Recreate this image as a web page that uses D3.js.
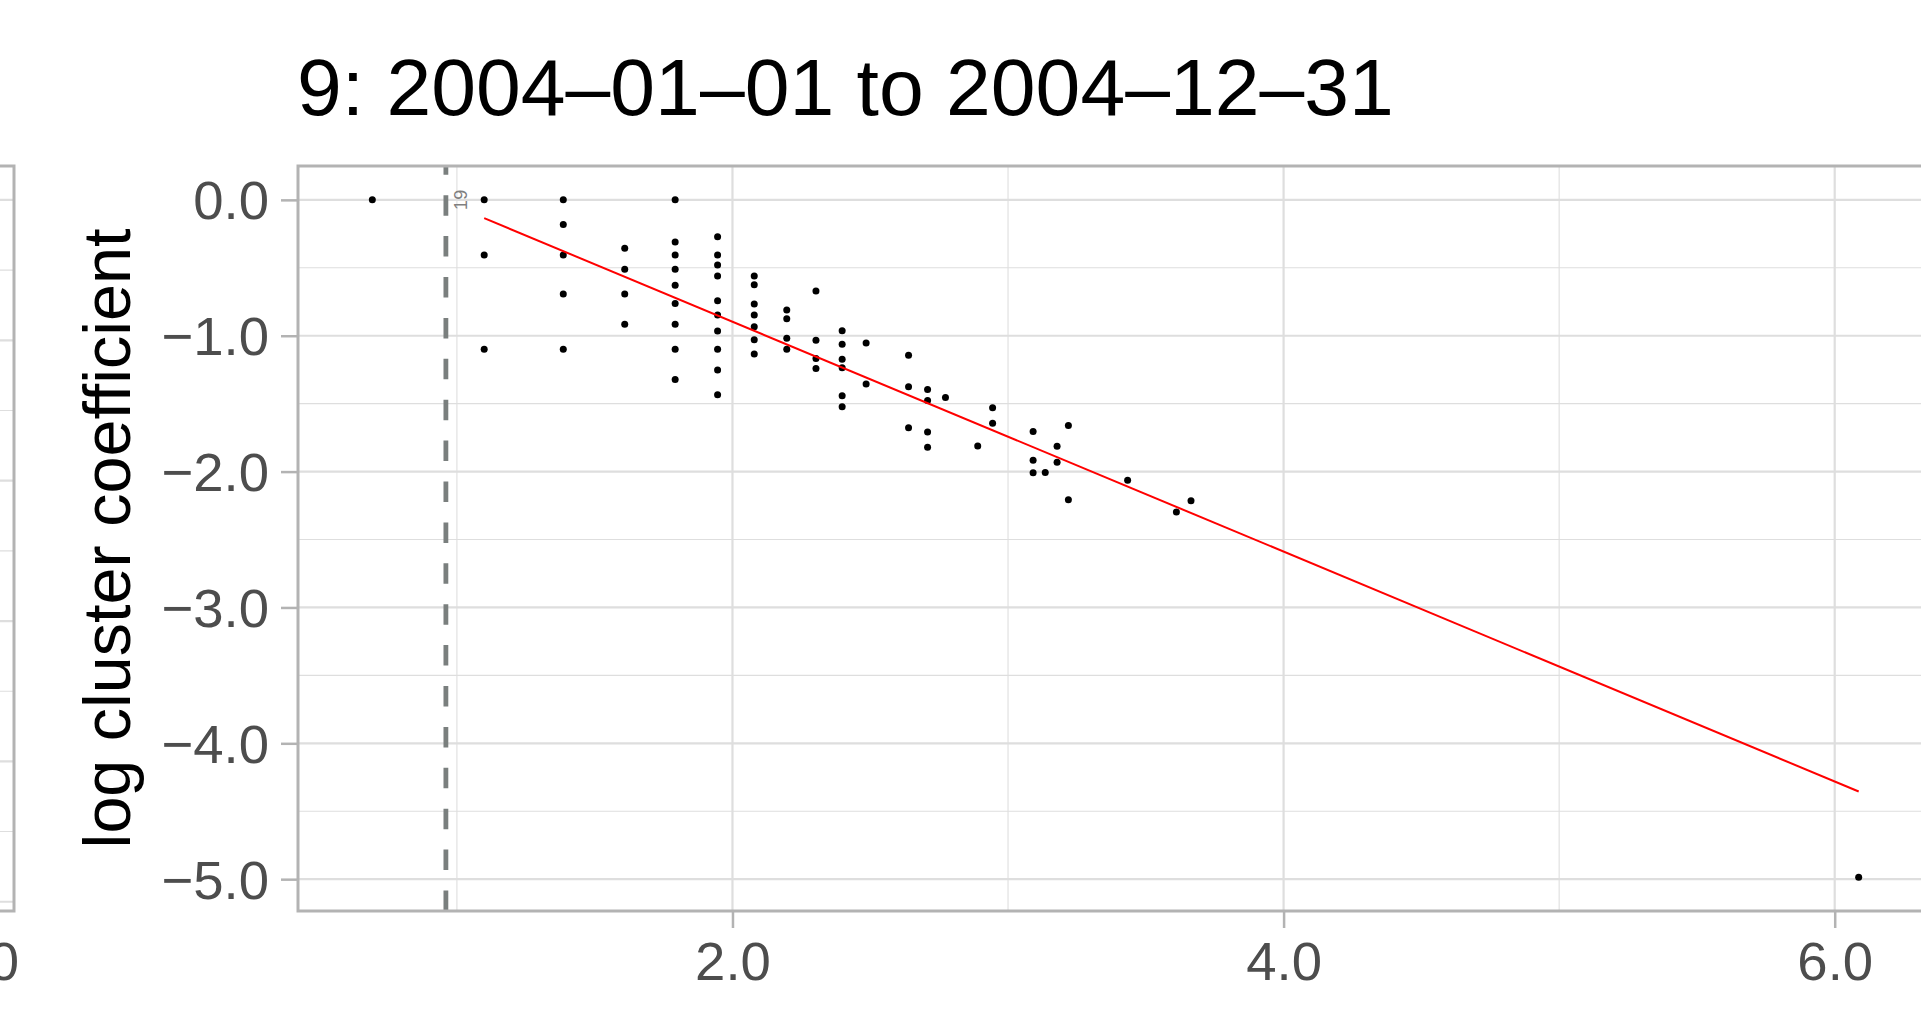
<!DOCTYPE html>
<html>
<head>
<meta charset="utf-8">
<script src="https://cdn.jsdelivr.net/npm/d3@7"></script>
<style>
  body { margin: 0; background: #fff; }
  svg { display: block; font-family: "Liberation Sans", Arial, sans-serif; }
</style>
</head>
<body>
<div id="graph"></div>
<script>
// 图表数据 (log degree -> log cluster coefficient)
const title = "9: 2004\u201301\u201301 to 2004\u201312\u201331";
const yLabel = "log cluster coefficient";

const logDegree = [0.693, 1.099, 1.386, 1.609, 1.792, 1.946, 2.079, 2.197, 2.303, 2.398,
    2.485, 2.639, 2.708, 2.773, 2.890, 2.944, 3.091, 3.135, 3.178, 3.219, 3.434, 3.611, 3.664, 6.087];
const logCluster = [
    [0],
    [0, -0.405, -1.099],
    [0, -0.182, -0.405, -0.693, -1.099],
    [-0.357, -0.511, -0.693, -0.916],
    [0, -0.310, -0.405, -0.511, -0.629, -0.762, -0.916, -1.099, -1.322],
    [-0.272, -0.405, -0.480, -0.560, -0.742, -0.847, -0.965, -1.099, -1.253, -1.435],
    [-0.560, -0.624, -0.767, -0.847, -0.934, -1.030, -1.135],
    [-0.811, -0.875, -1.019, -1.099],
    [-0.671, -1.034, -1.168, -1.242],
    [-0.963, -1.063, -1.174, -1.235, -1.442, -1.522],
    [-1.054, -1.356],
    [-1.143, -1.375, -1.678],
    [-1.396, -1.476, -1.709, -1.821],
    [-1.455],
    [-1.811],
    [-1.531, -1.645],
    [-1.705, -1.916, -2.008],
    [-2.007],
    [-1.814, -1.932],
    [-1.661, -2.207],
    [-2.064],
    [-2.297],
    [-2.214],
    [-4.985]
];

// 拟合线 & 截断线
const fitFrom = 1.099, fitTo = 6.087;
const fitIntercept = 0.795, fitSlope = -0.846;
const cutX = 0.96, cutLabel = "19";

const xMajor = [2, 4, 6], xMinor = [1, 3, 5];
const yMajor = [0, -1, -2, -3, -4, -5], yMinor = [-0.5, -1.5, -2.5, -3.5, -4.5];

// 左侧相邻面板 (只露出一小条)
const leftDomain = [0.242, -5.066];
const leftMajor = [0, -1, -2, -3, -4, -5], leftMinor = [-0.5, -1.5, -2.5, -3.5, -4.5];
const leftXLabel = "6.0";

//绘图及显示属性
const width = 1921, height = 1009;
const panel = {left: 298, right: 1933, top: 166, bottom: 911};
const grid = "#DEDEDE", border = "#B3B3B3", axisText = "#4D4D4D";
const tickFont = 54.5;

var points = [];
logDegree.forEach(function (x, i) {
    logCluster[i].forEach(function (y) { points.push({x: x, y: y}); });
});

var xExt = d3.extent(points, d => d.x);
var yExt = d3.extent(points.map(d => d.y).concat([fitIntercept + fitSlope * fitFrom, fitIntercept + fitSlope * fitTo]));
var xPad = (xExt[1] - xExt[0]) * 0.05, yPad = (yExt[1] - yExt[0]) * 0.05;

var x = d3.scaleLinear().domain([xExt[0] - xPad, xExt[1] + xPad]).range([panel.left, panel.right]);
var y = d3.scaleLinear().domain([yExt[0] - yPad, yExt[1] + yPad]).range([panel.bottom, panel.top]);
var fmt = d3.format(".1f");

var svg = d3.select("#graph").append("svg")
    .attr("width", width).attr("height", height);

// ---- left neighbour panel ----
var yl = d3.scaleLinear().domain(leftDomain).range([panel.top, panel.bottom]);
var lp = svg.append("g");
lp.append("rect").attr("x", -20).attr("y", panel.top).attr("width", 34).attr("height", panel.bottom - panel.top)
    .attr("fill", "#fff");
lp.selectAll(".lminor").data(leftMinor).enter().append("line")
    .attr("x1", -20).attr("x2", 14).attr("y1", d => yl(d)).attr("y2", d => yl(d))
    .attr("stroke", grid).attr("stroke-width", 1.1);
lp.selectAll(".lmajor").data(leftMajor).enter().append("line")
    .attr("x1", -20).attr("x2", 14).attr("y1", d => yl(d)).attr("y2", d => yl(d))
    .attr("stroke", grid).attr("stroke-width", 2.2);
lp.append("rect").attr("x", -20).attr("y", panel.top).attr("width", 34).attr("height", panel.bottom - panel.top)
    .attr("fill", "none").attr("stroke", border).attr("stroke-width", 3);
lp.append("text").attr("x", 19).attr("y", 980).attr("text-anchor", "end")
    .attr("font-size", tickFont).attr("fill", axisText).text(leftXLabel);

// ---- main panel ----
var g = svg.append("g");
g.append("rect").attr("x", panel.left).attr("y", panel.top)
    .attr("width", panel.right - panel.left).attr("height", panel.bottom - panel.top).attr("fill", "#fff");

g.selectAll(".yminor").data(yMinor).enter().append("line")
    .attr("x1", panel.left).attr("x2", panel.right).attr("y1", d => y(d)).attr("y2", d => y(d))
    .attr("stroke", grid).attr("stroke-width", 1.1);
g.selectAll(".xminor").data(xMinor).enter().append("line")
    .attr("y1", panel.top).attr("y2", panel.bottom).attr("x1", d => x(d)).attr("x2", d => x(d))
    .attr("stroke", grid).attr("stroke-width", 1.1);
g.selectAll(".ymajor").data(yMajor).enter().append("line")
    .attr("x1", panel.left).attr("x2", panel.right).attr("y1", d => y(d)).attr("y2", d => y(d))
    .attr("stroke", grid).attr("stroke-width", 2.2);
g.selectAll(".xmajor").data(xMajor).enter().append("line")
    .attr("y1", panel.top).attr("y2", panel.bottom).attr("x1", d => x(d)).attr("x2", d => x(d))
    .attr("stroke", grid).attr("stroke-width", 2.2);

// cut-off line
g.append("line")
    .attr("x1", x(cutX)).attr("x2", x(cutX)).attr("y1", panel.bottom).attr("y2", panel.top)
    .attr("stroke", "#7A7F7E").attr("stroke-width", 4.8).attr("stroke-dasharray", "20.5,20.4");
g.append("text")
    .attr("transform", "translate(" + (x(cutX) + 21) + "," + y(0) + ") rotate(-90)")
    .attr("text-anchor", "middle").attr("font-size", 18).attr("fill", "#7F7F7F")
    .text(cutLabel);

// points
g.selectAll(".pt").data(points).enter().append("circle")
    .attr("cx", d => x(d.x)).attr("cy", d => y(d.y)).attr("r", 3.5).attr("fill", "#000");

// regression line
g.append("line")
    .attr("x1", x(fitFrom)).attr("y1", y(fitIntercept + fitSlope * fitFrom))
    .attr("x2", x(fitTo)).attr("y2", y(fitIntercept + fitSlope * fitTo))
    .attr("stroke", "#FF0000").attr("stroke-width", 2);

// border
g.append("rect").attr("x", panel.left).attr("y", panel.top)
    .attr("width", panel.right - panel.left).attr("height", panel.bottom - panel.top)
    .attr("fill", "none").attr("stroke", border).attr("stroke-width", 3);

// axes
var yAxis = svg.append("g").attr("transform", "translate(" + panel.left + ",0)")
    .call(d3.axisLeft(y).tickValues(yMajor).tickFormat(fmt).tickSize(17).tickPadding(12));
var xAxis = svg.append("g").attr("transform", "translate(0," + panel.bottom + ")")
    .call(d3.axisBottom(x).tickValues(xMajor).tickFormat(fmt).tickSize(17).tickPadding(15));
[yAxis, xAxis].forEach(function (a) {
    a.select(".domain").remove();
    a.selectAll(".tick line").attr("stroke", border).attr("stroke-width", 2.5);
    a.selectAll(".tick text").attr("fill", axisText).attr("font-size", tickFont)
        .attr("font-family", "Liberation Sans, Arial, sans-serif");
});
yAxis.selectAll(".tick text").attr("dy", "0.35em");
xAxis.selectAll(".tick text").attr("dy", "0.68em");

// titles
svg.append("text")
    .attr("transform", "translate(130," + (panel.top + panel.bottom) / 2 + ") rotate(-90)")
    .attr("text-anchor", "middle").attr("font-size", 66.5).attr("fill", "#000")
    .text(yLabel);
svg.append("text").attr("x", panel.left - 1).attr("y", 115)
    .attr("font-size", 80.5).attr("fill", "#000")
    .text(title);
</script>
</body>
</html>
